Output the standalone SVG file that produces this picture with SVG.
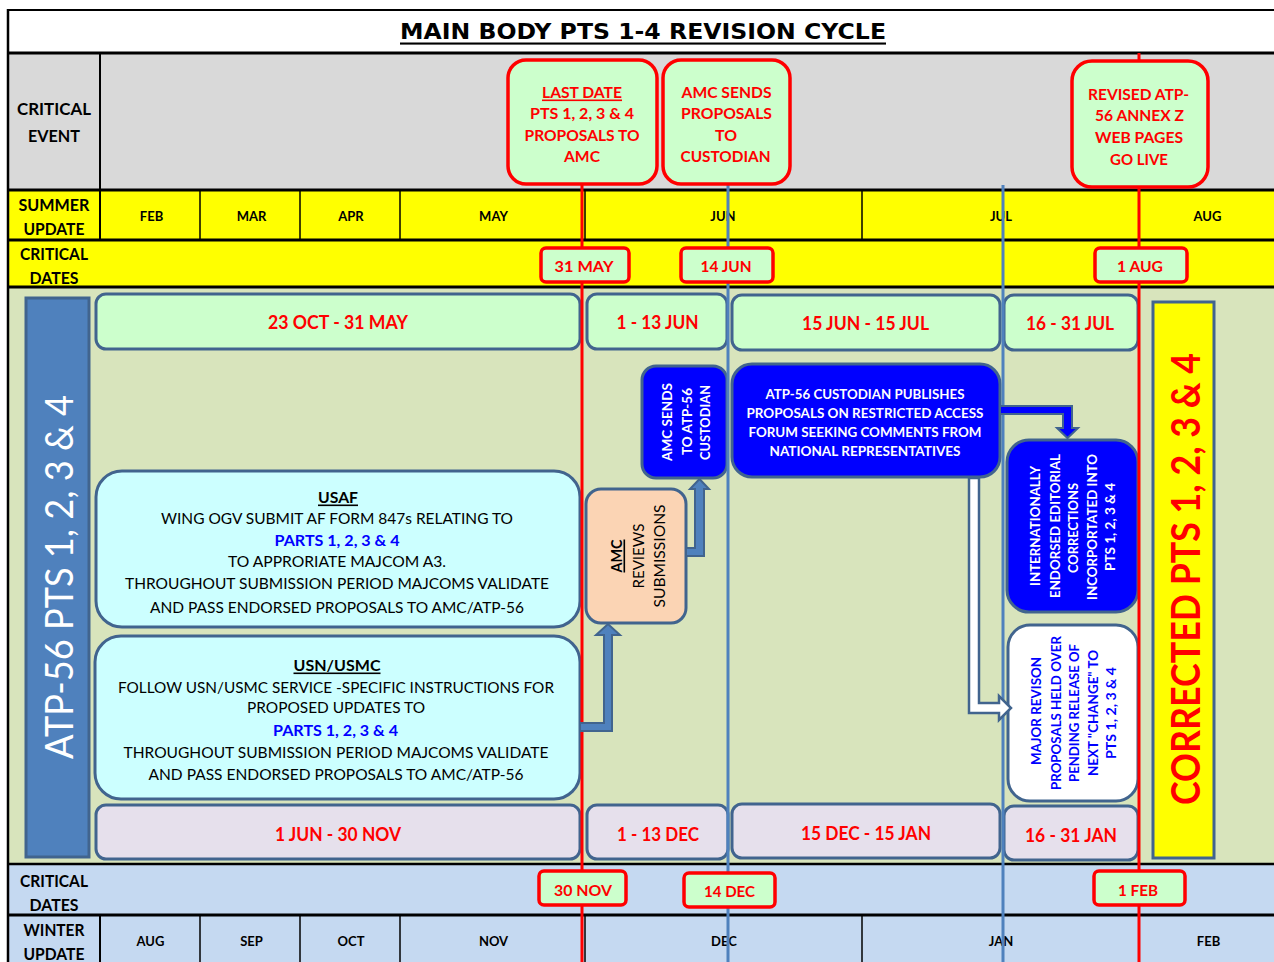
<svg xmlns="http://www.w3.org/2000/svg" width="1274" height="962" viewBox="0 0 1274 962">
<style>
text{font-family:Lato,'Liberation Sans','DejaVu Sans',sans-serif;text-anchor:middle;dominant-baseline:central}
.hd{font-size:17.5px;font-weight:bold;fill:#000}
.mo{font-size:13px;font-weight:bold;fill:#000}
.ev{font-size:16px;font-weight:bold;fill:#FF0000}
.dt{font-size:16px;font-weight:bold;fill:#FF0000}
.rg{font-size:18px;font-weight:bold;fill:#FF0000}
.bd{font-size:16px;fill:#000}
.bb{font-size:16px;font-weight:bold;fill:#0000FF}
.wt{font-size:14px;font-weight:bold;fill:#fff}
.wr{font-size:13.5px;font-weight:bold;fill:#fff}
.br{font-size:13.5px;font-weight:bold;fill:#0000FF}
.u{text-decoration:underline}
.box{stroke:#41648E;stroke-width:3}
.cev{fill:#CCFFCC;stroke:#FF0000;stroke-width:3.5}
.grn{fill:#CCFFCC}
.lav{fill:#E6E0EC}
.blk{stroke:#000;fill:none}
</style>

<!-- backgrounds -->
<rect x="0" y="0" width="1274" height="962" fill="#fff"/>
<rect x="8" y="54" width="1270" height="136" fill="#D9D9D9"/>
<rect x="8" y="190" width="1270" height="97" fill="#FFFF00"/>
<rect x="8" y="287" width="1270" height="577" fill="#D8E4BC"/>
<rect x="8" y="864" width="1270" height="100" fill="#C5D9F1"/>

<!-- grid lines -->
<g id="grid" class="blk">
<line x1="7" y1="10" x2="1274" y2="10" stroke-width="2"/>
<line x1="8" y1="9" x2="8" y2="962" stroke-width="2.5"/>
<line x1="8" y1="53" x2="1274" y2="53" stroke-width="3"/>
<line x1="8" y1="190" x2="1274" y2="190" stroke-width="3"/>
<line x1="8" y1="240" x2="1274" y2="240" stroke-width="3"/>
<line x1="8" y1="287" x2="1274" y2="287" stroke-width="3"/>
<line x1="8" y1="864" x2="1274" y2="864" stroke-width="2.5"/>
<line x1="8" y1="915" x2="1274" y2="915" stroke-width="3"/>
<line x1="100" y1="54" x2="100" y2="240" stroke-width="2"/>
<line x1="200" y1="190" x2="200" y2="240" stroke-width="1.5"/>
<line x1="300" y1="190" x2="300" y2="240" stroke-width="1.5"/>
<line x1="400" y1="190" x2="400" y2="240" stroke-width="1.5"/>
<line x1="585" y1="190" x2="585" y2="240" stroke-width="1.5"/>
<line x1="862" y1="190" x2="862" y2="240" stroke-width="1.5"/>
<line x1="100" y1="915" x2="100" y2="962" stroke-width="2"/>
<line x1="200" y1="915" x2="200" y2="962" stroke-width="1.5"/>
<line x1="300" y1="915" x2="300" y2="962" stroke-width="1.5"/>
<line x1="400" y1="915" x2="400" y2="962" stroke-width="1.5"/>
<line x1="585" y1="915" x2="585" y2="962" stroke-width="1.5"/>
<line x1="862" y1="915" x2="862" y2="962" stroke-width="1.5"/>
</g>

<!-- title -->
<text x="643" y="31.5" class="u" style="font-family:'DejaVu Sans',sans-serif;font-size:21px;font-weight:bold" textLength="486" lengthAdjust="spacingAndGlyphs">MAIN BODY PTS 1-4 REVISION CYCLE</text>

<!-- row headers -->
<g id="row-headers">
<text x="54" y="108.5" class="hd" textLength="74" lengthAdjust="spacingAndGlyphs">CRITICAL</text>
<text x="54" y="135.5" class="hd" textLength="52" lengthAdjust="spacingAndGlyphs">EVENT</text>
<text x="54" y="204.5" class="hd" textLength="71" lengthAdjust="spacingAndGlyphs">SUMMER</text>
<text x="54" y="228" class="hd" textLength="61" lengthAdjust="spacingAndGlyphs">UPDATE</text>
<text x="54" y="253.5" class="hd" textLength="68" lengthAdjust="spacingAndGlyphs">CRITICAL</text>
<text x="54" y="277" class="hd" textLength="49" lengthAdjust="spacingAndGlyphs">DATES</text>
<text x="54" y="880" class="hd" textLength="68" lengthAdjust="spacingAndGlyphs">CRITICAL</text>
<text x="54" y="904" class="hd" textLength="49" lengthAdjust="spacingAndGlyphs">DATES</text>
<text x="54" y="929" class="hd" textLength="61" lengthAdjust="spacingAndGlyphs">WINTER</text>
<text x="54" y="953" class="hd" textLength="61" lengthAdjust="spacingAndGlyphs">UPDATE</text>
</g>

<!-- months -->
<g id="months">
<text x="151.5" y="216" class="mo">FEB</text>
<text x="251.5" y="216" class="mo">MAR</text>
<text x="351" y="216" class="mo">APR</text>
<text x="493.5" y="216" class="mo">MAY</text>
<text x="723" y="216" class="mo">JUN</text>
<text x="1001" y="216" class="mo">JUL</text>
<text x="1207.5" y="216" class="mo">AUG</text>
<text x="150.5" y="941" class="mo">AUG</text>
<text x="251.5" y="941" class="mo">SEP</text>
<text x="351" y="941" class="mo">OCT</text>
<text x="493.5" y="941" class="mo">NOV</text>
<text x="724" y="941" class="mo">DEC</text>
<text x="1001" y="941" class="mo">JAN</text>
<text x="1208.5" y="941" class="mo">FEB</text>
</g>

<!-- left bar -->
<g id="atp56-bar">
<rect x="26" y="298" width="63" height="559" fill="#4F81BD" class="box"/>
<text x="58" y="577" transform="rotate(-90 58 577)" style="font-size:38px;fill:#fff" textLength="364" lengthAdjust="spacingAndGlyphs">ATP-56 PTS 1, 2, 3 &amp; 4</text>
</g>

<!-- range boxes top -->
<g id="range-23oct">
<rect x="96" y="294" width="484" height="55" rx="10" class="box grn"/>
<text x="338" y="321.5" class="rg" textLength="140" lengthAdjust="spacingAndGlyphs">23 OCT - 31 MAY</text>
</g>
<g id="range-1jun">
<rect x="587" y="294" width="140" height="55" rx="10" class="box grn"/>
<text x="657.5" y="321.5" class="rg" textLength="82" lengthAdjust="spacingAndGlyphs">1 - 13 JUN</text>
</g>
<g id="range-15jun">
<rect x="732" y="295" width="268" height="55" rx="10" class="box grn"/>
<text x="865.5" y="322.5" class="rg" textLength="127" lengthAdjust="spacingAndGlyphs">15 JUN - 15 JUL</text>
</g>
<g id="range-16jul">
<rect x="1004" y="295" width="134" height="55" rx="10" class="box grn"/>
<text x="1070" y="323" class="rg" textLength="88" lengthAdjust="spacingAndGlyphs">16 - 31 JUL</text>
</g>

<!-- range boxes bottom -->
<g id="range-1jun-30nov">
<rect x="96" y="805" width="484" height="54" rx="10" class="box lav"/>
<text x="338" y="834" class="rg" textLength="126" lengthAdjust="spacingAndGlyphs">1 JUN - 30 NOV</text>
</g>
<g id="range-1dec">
<rect x="587" y="805" width="141" height="54" rx="10" class="box lav"/>
<text x="658" y="833.5" class="rg" textLength="82" lengthAdjust="spacingAndGlyphs">1 - 13 DEC</text>
</g>
<g id="range-15dec">
<rect x="732" y="804" width="268" height="54" rx="10" class="box lav"/>
<text x="866" y="832.5" class="rg" textLength="130" lengthAdjust="spacingAndGlyphs">15 DEC - 15 JAN</text>
</g>
<g id="range-16jan">
<rect x="1004" y="806" width="134" height="54" rx="10" class="box lav"/>
<text x="1071" y="835" class="rg" textLength="92" lengthAdjust="spacingAndGlyphs">16 - 31 JAN</text>
</g>

<!-- USAF -->
<g id="usaf">
<rect x="96" y="471" width="484" height="156" rx="26" fill="#CCFFFF" class="box"/>
<text x="338" y="496" class="bd u" style="font-weight:bold" textLength="40" lengthAdjust="spacingAndGlyphs">USAF</text>
<text x="337" y="517.5" class="bd" textLength="352" lengthAdjust="spacingAndGlyphs">WING OGV SUBMIT AF FORM 847s RELATING TO</text>
<text x="337" y="539" class="bb" textLength="125" lengthAdjust="spacingAndGlyphs">PARTS 1, 2, 3 &amp; 4</text>
<text x="337" y="560.5" class="bd" textLength="218" lengthAdjust="spacingAndGlyphs">TO APPRORIATE MAJCOM A3.</text>
<text x="337" y="582.5" class="bd" textLength="424" lengthAdjust="spacingAndGlyphs">THROUGHOUT SUBMISSION PERIOD MAJCOMS VALIDATE</text>
<text x="337" y="606" class="bd" textLength="374" lengthAdjust="spacingAndGlyphs">AND PASS ENDORSED PROPOSALS TO AMC/ATP-56</text>
</g>

<!-- USN/USMC -->
<g id="usn-usmc">
<rect x="95" y="636" width="485" height="163" rx="26" fill="#CCFFFF" class="box"/>
<text x="337" y="664" class="bd u" style="font-weight:bold" textLength="87" lengthAdjust="spacingAndGlyphs">USN/USMC</text>
<text x="336" y="686" class="bd" textLength="436" lengthAdjust="spacingAndGlyphs">FOLLOW USN/USMC SERVICE -SPECIFIC INSTRUCTIONS FOR</text>
<text x="336" y="706.5" class="bd" textLength="178" lengthAdjust="spacingAndGlyphs">PROPOSED UPDATES TO</text>
<text x="335.5" y="729.5" class="bb" textLength="125" lengthAdjust="spacingAndGlyphs">PARTS 1, 2, 3 &amp; 4</text>
<text x="336" y="751.5" class="bd" textLength="425" lengthAdjust="spacingAndGlyphs">THROUGHOUT SUBMISSION PERIOD MAJCOMS VALIDATE</text>
<text x="336" y="773.5" class="bd" textLength="375" lengthAdjust="spacingAndGlyphs">AND PASS ENDORSED PROPOSALS TO AMC/ATP-56</text>
</g>

<!-- AMC reviews -->
<g id="amc-reviews">
<rect x="586" y="489" width="100" height="134" rx="15" fill="#FBD4B4" class="box"/>
<text x="615" y="556" transform="rotate(-90 615 556)" class="u" style="font-size:16px;font-weight:bold;fill:#000" textLength="33" lengthAdjust="spacingAndGlyphs">AMC</text>
<text x="637" y="556" transform="rotate(-90 637 556)" style="font-size:16px;fill:#000" textLength="65" lengthAdjust="spacingAndGlyphs">REVIEWS</text>
<text x="658" y="556" transform="rotate(-90 658 556)" style="font-size:16px;fill:#000" textLength="103" lengthAdjust="spacingAndGlyphs">SUBMISSIONS</text>
</g>

<!-- AMC sends to ATP-56 custodian -->
<g id="amc-sends">
<rect x="642" y="366" width="85" height="112" rx="14" fill="#0000FF" class="box"/>
<text x="666" y="422" transform="rotate(-90 666 422)" class="wt" textLength="78" lengthAdjust="spacingAndGlyphs">AMC SENDS</text>
<text x="686" y="421.5" transform="rotate(-90 686 421.5)" class="wt" textLength="67" lengthAdjust="spacingAndGlyphs">TO ATP-56</text>
<text x="704" y="422.5" transform="rotate(-90 704 422.5)" class="wt" textLength="75" lengthAdjust="spacingAndGlyphs">CUSTODIAN</text>
</g>

<!-- custodian publishes -->
<g id="custodian-publishes">
<rect x="732" y="364" width="268" height="113" rx="20" fill="#0000FF" class="box"/>
<text x="865" y="393" class="wt" textLength="199" lengthAdjust="spacingAndGlyphs">ATP-56 CUSTODIAN PUBLISHES</text>
<text x="865" y="412" class="wt" textLength="237" lengthAdjust="spacingAndGlyphs">PROPOSALS ON RESTRICTED ACCESS</text>
<text x="865" y="431" class="wt" textLength="233" lengthAdjust="spacingAndGlyphs">FORUM SEEKING COMMENTS FROM</text>
<text x="865" y="450" class="wt" textLength="191" lengthAdjust="spacingAndGlyphs">NATIONAL REPRESENTATIVES</text>
</g>

<!-- internationally endorsed -->
<g id="intl-endorsed">
<rect x="1007" y="440" width="131" height="172" rx="22" fill="#0000FF" class="box"/>
<text x="1035" y="526" transform="rotate(-90 1035 526)" class="wr" textLength="120" lengthAdjust="spacingAndGlyphs">INTERNATIONALLY</text>
<text x="1055" y="526" transform="rotate(-90 1055 526)" class="wr" textLength="144" lengthAdjust="spacingAndGlyphs">ENDORSED EDITORIAL</text>
<text x="1073" y="528" transform="rotate(-90 1073 528)" class="wr" textLength="90" lengthAdjust="spacingAndGlyphs">CORRECTIONS</text>
<text x="1092" y="527" transform="rotate(-90 1092 527)" class="wr" textLength="146" lengthAdjust="spacingAndGlyphs">INCORPORTATED INTO</text>
<text x="1110" y="527" transform="rotate(-90 1110 527)" class="wr" textLength="88" lengthAdjust="spacingAndGlyphs">PTS 1, 2, 3 &amp; 4</text>
</g>

<!-- major revision -->
<g id="major-revision">
<rect x="1008" y="625" width="130" height="176" rx="22" fill="#fff" class="box"/>
<text x="1036" y="711" transform="rotate(-90 1036 711)" class="br" textLength="108" lengthAdjust="spacingAndGlyphs">MAJOR REVISON</text>
<text x="1055.5" y="713" transform="rotate(-90 1055.5 713)" class="br" textLength="154" lengthAdjust="spacingAndGlyphs">PROPOSALS HELD OVER</text>
<text x="1073.5" y="713" transform="rotate(-90 1073.5 713)" class="br" textLength="138" lengthAdjust="spacingAndGlyphs">PENDING RELEASE OF</text>
<text x="1092.5" y="713" transform="rotate(-90 1092.5 713)" class="br" textLength="126" lengthAdjust="spacingAndGlyphs">NEXT "CHANGE" TO</text>
<text x="1110.5" y="713" transform="rotate(-90 1110.5 713)" class="br" textLength="92" lengthAdjust="spacingAndGlyphs">PTS 1, 2, 3 &amp; 4</text>
</g>

<!-- corrected -->
<g id="corrected">
<rect x="1153" y="302" width="61" height="556" fill="#FFFF00" class="box"/>
<text x="1185" y="579" transform="rotate(-90 1185 579)" style="font-size:40px;font-weight:bold;fill:#FF0000" textLength="452" lengthAdjust="spacingAndGlyphs">CORRECTED PTS 1, 2, 3 &amp; 4</text>
</g>

<!-- timeline lines -->
<g id="timeline" fill="none" stroke-width="3">
<line x1="582" y1="184" x2="582" y2="962" stroke="#FF0000"/>
<line x1="728" y1="184" x2="728" y2="962" stroke="#4F81BD"/>
<line x1="1003" y1="185" x2="1003" y2="962" stroke="#4F81BD"/>
<line x1="1139" y1="53" x2="1139" y2="962" stroke="#FF0000"/>
</g>

<!-- connectors -->
<g id="connectors" stroke="#41648E" stroke-width="2" stroke-linejoin="miter">
<polygon points="580,723 604,723 604,635 596,635 608,624 620,635 612,635 612,731 580,731" fill="#4F81BD"/>
<polygon points="686,548 695,548 695,489 690,489 699.5,479 709,489 704,489 704,556 686,556" fill="#4F81BD"/>
<polygon points="1000,406 1072,406 1072,428 1078,428 1067.5,438 1057,428 1063,428 1063,414 1000,414" fill="#0000FF"/>
<polygon points="969,478 979,478 979,703 999,703 999,696 1011,708 999,720 999,713 969,713" fill="#fff" stroke-width="2.5"/>
</g>

<!-- critical events -->
<g id="event-last-date">
<rect x="508" y="60" width="149" height="124" rx="18" class="cev"/>
<text x="582" y="91" class="ev u" textLength="80" lengthAdjust="spacingAndGlyphs">LAST DATE</text>
<text x="582" y="112.5" class="ev" textLength="104" lengthAdjust="spacingAndGlyphs">PTS 1, 2, 3 &amp; 4</text>
<text x="582" y="134" class="ev" textLength="115" lengthAdjust="spacingAndGlyphs">PROPOSALS TO</text>
<text x="582" y="155.5" class="ev" textLength="36" lengthAdjust="spacingAndGlyphs">AMC</text>
</g>
<g id="event-amc-sends">
<rect x="663" y="60" width="127" height="124" rx="18" class="cev"/>
<text x="726.5" y="91" class="ev" textLength="90" lengthAdjust="spacingAndGlyphs">AMC SENDS</text>
<text x="726.5" y="112.5" class="ev" textLength="91" lengthAdjust="spacingAndGlyphs">PROPOSALS</text>
<text x="726" y="134" class="ev" textLength="22" lengthAdjust="spacingAndGlyphs">TO</text>
<text x="725.5" y="155.5" class="ev" textLength="90" lengthAdjust="spacingAndGlyphs">CUSTODIAN</text>
</g>
<g id="event-revised">
<rect x="1072" y="61" width="136" height="126" rx="20" class="cev"/>
<text x="1138.5" y="93" class="ev" textLength="101" lengthAdjust="spacingAndGlyphs">REVISED ATP-</text>
<text x="1139.5" y="114.5" class="ev" textLength="89" lengthAdjust="spacingAndGlyphs">56 ANNEX Z</text>
<text x="1139" y="136" class="ev" textLength="88" lengthAdjust="spacingAndGlyphs">WEB PAGES</text>
<text x="1139" y="158" class="ev" textLength="58" lengthAdjust="spacingAndGlyphs">GO LIVE</text>
</g>

<!-- critical dates -->
<g id="date-31may"><rect x="541" y="248" width="88" height="34" rx="5" class="cev"/><text x="584" y="265" class="dt" textLength="59" lengthAdjust="spacingAndGlyphs">31 MAY</text></g>
<g id="date-14jun"><rect x="681" y="248" width="92" height="34" rx="5" class="cev"/><text x="726" y="265" class="dt" textLength="51" lengthAdjust="spacingAndGlyphs">14 JUN</text></g>
<g id="date-1aug"><rect x="1095" y="248" width="92" height="34" rx="5" class="cev"/><text x="1140" y="265" class="dt" textLength="46" lengthAdjust="spacingAndGlyphs">1 AUG</text></g>
<g id="date-30nov"><rect x="539" y="871" width="87" height="34" rx="5" class="cev"/><text x="583" y="889" class="dt" textLength="58" lengthAdjust="spacingAndGlyphs">30 NOV</text></g>
<g id="date-14dec"><rect x="684" y="873" width="91" height="34" rx="5" class="cev"/><text x="729.5" y="890" class="dt" textLength="51" lengthAdjust="spacingAndGlyphs">14 DEC</text></g>
<g id="date-1feb"><rect x="1094" y="871" width="91" height="34" rx="5" class="cev"/><text x="1138" y="889" class="dt" textLength="40" lengthAdjust="spacingAndGlyphs">1 FEB</text></g>
</svg>
